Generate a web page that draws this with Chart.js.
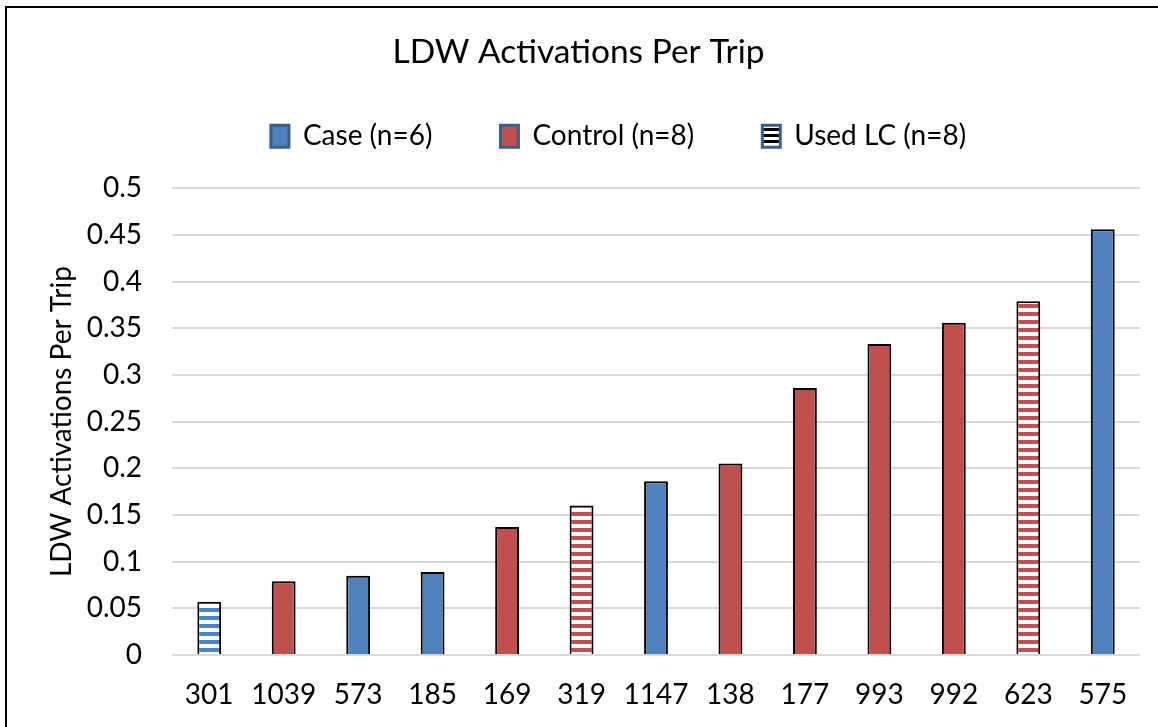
<!DOCTYPE html>
<html>
<head>
<meta charset="utf-8">
<script src="https://cdn.jsdelivr.net/npm/chart.js@4"></script>
<style>
  html, body { margin: 0; padding: 0; background: #fff; overflow: hidden; }
  #frame {
    position: absolute; left: 5px; top: 6px;
    width: 1160px; height: 730px;
    border: 2px solid #000;
  }
  #wrap { position: absolute; left: 0; top: 0; width: 1151px; height: 719px; }
</style>
</head>
<body>
<div id="frame"><div id="wrap"><canvas id="ldwChart"></canvas></div></div>
<script>
const trips = ['301', '1039', '573', '185', '169', '319', '1147', '138', '177', '993', '992', '623', '575'];
const activations = [0.057, 0.079, 0.085, 0.089, 0.137, 0.160, 0.186, 0.205, 0.286, 0.333, 0.356, 0.379, 0.456];
const groups = ['case', 'control', 'case', 'case', 'control', 'control', 'case', 'control', 'control', 'control', 'control', 'control', 'case'];
const usedLC = [true, false, false, false, false, true, false, false, false, false, false, true, false];
const legendNames = ['Case (n=6)', 'Control (n=8)', 'Used LC (n=8)'];
const yTicks = [0, 0.05, 0.1, 0.15, 0.2, 0.25, 0.3, 0.35, 0.4, 0.45, 0.5];

const BLUE = '#4F81BD';
const RED = '#C0504D';
const FONT = 'Lato, "Liberation Sans", sans-serif';

function stripes(color, period, band) {
  const c = document.createElement('canvas');
  c.width = 8; c.height = period;
  const g = c.getContext('2d');
  g.fillStyle = '#fff';
  g.fillRect(0, 0, 8, period);
  g.fillStyle = color;
  g.fillRect(0, 0, 8, band);
  return g.createPattern(c, 'repeat');
}

const blueStripes = stripes(BLUE, 8, 4);
const redStripes = stripes(RED, 8, 4);
const legendStripes = stripes('#000', 6, 3);

const caseData = activations.map((v, i) => groups[i] === 'case' && !usedLC[i] ? v : null);
const controlData = activations.map((v, i) => groups[i] === 'control' && !usedLC[i] ? v : null);
const lcData = activations.map((v, i) => usedLC[i] ? v : null);
const lcColors = groups.map(g => g === 'case' ? blueStripes : redStripes);

const legendFills = [BLUE, RED, legendStripes];

const barStyle = {
  borderColor: '#000',
  borderWidth: 2,
  grouped: false,
  barPercentage: 0.32,
  categoryPercentage: 1
};

// extra space under the legend row, and the legend sits a bit right of centre
const legendTweak = {
  id: 'legendTweak',
  beforeInit(chart) {
    const legend = chart.legend;
    const fit = legend.fit;
    legend.fit = function () {
      fit.call(this);
      this.height += 28;
    };
    const draw = legend.draw;
    legend.draw = function (area) {
      chart.ctx.save();
      chart.ctx.translate(40, 0);
      draw.call(this, area);
      chart.ctx.restore();
    };
  }
};

const ctx = document.getElementById('ldwChart').getContext('2d');
new Chart(ctx, {
  type: 'bar',
  data: {
    labels: trips,
    datasets: [
      { label: legendNames[0], data: caseData, backgroundColor: BLUE, ...barStyle },
      { label: legendNames[1], data: controlData, backgroundColor: RED, ...barStyle },
      { label: legendNames[2], data: lcData, backgroundColor: lcColors, ...barStyle }
    ]
  },
  plugins: [legendTweak],
  options: {
    responsive: true,
    maintainAspectRatio: false,
    animation: false,
    layout: { padding: { left: 10, right: 18, top: 0, bottom: 0 } },
    plugins: {
      tooltip: { enabled: false },
      title: {
        display: true,
        text: 'LDW Activations Per Trip',
        color: '#000',
        font: { family: FONT, size: 33.5, weight: 'normal' },
        padding: { top: 24, bottom: -18 }
      },
      legend: {
        position: 'top',
        labels: {
          color: '#000',
          font: { family: FONT, size: 28 },
          boxWidth: 18,
          boxHeight: 22,
          padding: 68,
          generateLabels: chart => chart.data.datasets.map((ds, i) => ({
            text: ds.label,
            fillStyle: legendFills[i],
            strokeStyle: '#3A5F8B',
            lineWidth: 3,
            datasetIndex: i
          }))
        }
      }
    },
    scales: {
      x: {
        grid: { display: false },
        border: { display: false },
        ticks: { color: '#000', font: { family: FONT, size: 28 }, padding: 15, maxRotation: 0 },
        afterFit: s => { s.height = 72; }
      },
      y: {
        min: 0,
        max: 0.5,
        afterBuildTicks: s => { s.ticks = yTicks.map(v => ({ value: v })); },
        grid: { color: '#D9D9D9', lineWidth: 2, drawTicks: false },
        border: { display: false },
        ticks: {
          color: '#000',
          font: { family: FONT, size: 28 },
          padding: 30,
          callback: v => String(v)
        },
        title: {
          display: true,
          text: 'LDW Activations Per Trip',
          color: '#000',
          font: { family: FONT, size: 28 },
          padding: { top: 28, bottom: 0 }
        },
        afterFit: s => { s.width = 155; }
      }
    }
  }
});
</script>
</body>
</html>
